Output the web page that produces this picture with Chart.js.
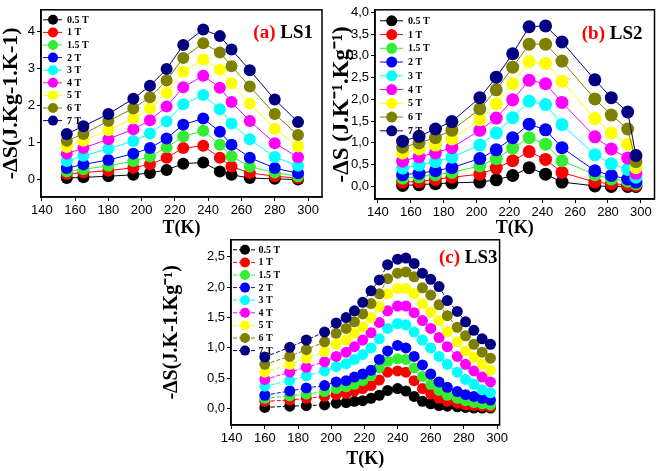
<!DOCTYPE html>
<html>
<head>
<meta charset="utf-8">
<script src="https://cdn.jsdelivr.net/npm/chart.js@4.4.0/dist/chart.umd.min.js"></script>
<style>
  body { margin: 0; background: #fff; width: 661px; height: 471px; position: relative; overflow: hidden; }
  .panel { position: absolute; }
</style>
</head>
<body>
<div class="panel" style="left:0;top:0;width:330px;height:240px"><canvas id="chartA"></canvas></div>
<div class="panel" style="left:330px;top:0;width:331px;height:240px"><canvas id="chartB"></canvas></div>
<div class="panel" style="left:160px;top:230px;width:350px;height:241px"><canvas id="chartC"></canvas></div>
<script>
// field labels and colours (same for all three panels)
const fields = ["0.5 T", "1 T", "1.5 T", "2 T", "3 T", "4 T", "5 T", "6 T", "7 T"];
const colors = ["#000000", "#ff0000", "#33ee33", "#0000ff", "#00ffff", "#ff00ff", "#ffff00", "#808000", "#000080"];

// (a) LS1
const tempLS1 = [155, 165, 180, 195, 205, 215, 225, 237, 247, 254, 265, 280, 294];
const ls1_05 = [0.04, 0.06, 0.09, 0.13, 0.18, 0.26, 0.43, 0.46, 0.22, 0.13, 0.04, 0.02, 0.00];
const ls1_1  = [0.15, 0.19, 0.24, 0.32, 0.41, 0.59, 0.85, 0.91, 0.59, 0.35, 0.18, 0.09, 0.04];
const ls1_15 = [0.22, 0.28, 0.37, 0.50, 0.62, 0.87, 1.16, 1.32, 0.94, 0.63, 0.35, 0.19, 0.09];
const ls1_2  = [0.31, 0.41, 0.53, 0.70, 0.85, 1.11, 1.48, 1.65, 1.29, 0.94, 0.59, 0.31, 0.17];
const ls1_3  = [0.50, 0.64, 0.83, 1.04, 1.24, 1.57, 2.03, 2.28, 1.90, 1.51, 1.09, 0.61, 0.37];
const ls1_4  = [0.70, 0.85, 1.09, 1.36, 1.60, 1.97, 2.49, 2.80, 2.48, 2.09, 1.58, 0.98, 0.60];
const ls1_5  = [0.88, 1.05, 1.33, 1.65, 1.92, 2.34, 2.91, 3.24, 2.97, 2.60, 2.05, 1.37, 0.89];
const ls1_6  = [1.05, 1.23, 1.58, 1.92, 2.22, 2.67, 3.28, 3.68, 3.43, 3.06, 2.51, 1.77, 1.20];
const ls1_7  = [1.23, 1.44, 1.77, 2.18, 2.53, 2.98, 3.63, 4.05, 3.87, 3.51, 2.95, 2.16, 1.55];

// (b) LS2
const tempLS2 = [155, 165, 175, 185, 202, 212, 222, 232, 242, 252, 272, 282, 292, 297];
const ls2_05 = [0.02, 0.04, 0.06, 0.08, 0.10, 0.15, 0.25, 0.43, 0.28, 0.10, 0.01, 0.00, 0.00, 0.00];
const ls2_1  = [0.10, 0.11, 0.16, 0.21, 0.28, 0.42, 0.59, 0.80, 0.62, 0.32, 0.10, 0.06, 0.04, 0.02];
const ls2_15 = [0.19, 0.22, 0.27, 0.32, 0.47, 0.64, 0.88, 1.12, 0.97, 0.59, 0.27, 0.17, 0.12, 0.06];
const ls2_2  = [0.27, 0.30, 0.36, 0.43, 0.64, 0.84, 1.12, 1.43, 1.30, 0.89, 0.36, 0.25, 0.17, 0.10];
const ls2_3  = [0.42, 0.49, 0.57, 0.67, 0.95, 1.23, 1.58, 1.96, 1.88, 1.42, 0.73, 0.52, 0.39, 0.21];
const ls2_4  = [0.58, 0.68, 0.77, 0.89, 1.29, 1.57, 1.99, 2.44, 2.36, 1.93, 1.14, 0.86, 0.65, 0.30];
const ls2_5  = [0.77, 0.86, 0.95, 1.09, 1.53, 1.90, 2.36, 2.87, 2.83, 2.42, 1.56, 1.23, 0.97, 0.43];
const ls2_6  = [0.90, 1.00, 1.12, 1.29, 1.78, 2.22, 2.74, 3.27, 3.27, 2.88, 2.01, 1.64, 1.32, 0.57];
const ls2_7  = [1.04, 1.15, 1.32, 1.49, 2.04, 2.51, 3.05, 3.67, 3.69, 3.32, 2.45, 2.04, 1.71, 0.71];

// (c) LS3
const tempLS3 = [160, 175, 185, 196, 203, 209, 214, 219, 224, 229, 234, 240, 245, 250, 255, 260, 265, 270, 276, 281, 286, 291, 296];
const ls3_05 = [0.02, 0.04, 0.05, 0.06, 0.09, 0.10, 0.12, 0.13, 0.17, 0.22, 0.30, 0.33, 0.29, 0.20, 0.12, 0.08, 0.05, 0.04, 0.03, 0.02, 0.01, 0.01, 0.01];
const ls3_1  = [0.12, 0.14, 0.17, 0.20, 0.23, 0.25, 0.29, 0.33, 0.38, 0.47, 0.60, 0.62, 0.60, 0.46, 0.33, 0.24, 0.17, 0.12, 0.09, 0.06, 0.05, 0.04, 0.03];
const ls3_15 = [0.17, 0.21, 0.24, 0.28, 0.33, 0.36, 0.40, 0.46, 0.54, 0.67, 0.78, 0.82, 0.81, 0.67, 0.53, 0.40, 0.30, 0.22, 0.17, 0.13, 0.10, 0.08, 0.06];
const ls3_2  = [0.22, 0.29, 0.34, 0.38, 0.44, 0.46, 0.52, 0.57, 0.63, 0.81, 0.95, 1.04, 1.00, 0.86, 0.72, 0.57, 0.44, 0.35, 0.28, 0.23, 0.20, 0.17, 0.14];
const ls3_3  = [0.37, 0.46, 0.54, 0.62, 0.69, 0.74, 0.81, 0.89, 1.00, 1.15, 1.32, 1.40, 1.38, 1.26, 1.13, 1.00, 0.86, 0.73, 0.60, 0.48, 0.40, 0.31, 0.26];
const ls3_4  = [0.48, 0.60, 0.68, 0.77, 0.86, 0.93, 1.02, 1.13, 1.25, 1.42, 1.61, 1.69, 1.69, 1.58, 1.45, 1.32, 1.17, 1.02, 0.86, 0.73, 0.62, 0.52, 0.44];
const ls3_5  = [0.60, 0.73, 0.83, 0.94, 1.06, 1.13, 1.24, 1.35, 1.50, 1.68, 1.89, 1.98, 1.98, 1.89, 1.73, 1.59, 1.45, 1.27, 1.10, 0.95, 0.84, 0.73, 0.63];
const ls3_6  = [0.73, 0.86, 0.97, 1.10, 1.24, 1.32, 1.43, 1.56, 1.73, 1.89, 2.14, 2.23, 2.25, 2.17, 1.99, 1.87, 1.71, 1.53, 1.34, 1.20, 1.06, 0.93, 0.83];
const ls3_7  = [0.85, 1.01, 1.13, 1.26, 1.41, 1.50, 1.61, 1.75, 1.94, 2.12, 2.37, 2.46, 2.48, 2.39, 2.23, 2.13, 2.01, 1.78, 1.60, 1.43, 1.29, 1.15, 1.06];

const xTicks = [140, 160, 180, 200, 220, 240, 260, 280, 300];

// frame, legend and panel tag drawn inside the plot box
const framePlugin = {
    id: 'frame',
    afterDatasetsDraw(chart, args, opts) {
        const ctx = chart.ctx;
        const a = chart.chartArea;
        ctx.save();
        ctx.strokeStyle = '#000';
        ctx.lineWidth = 1.5;
        ctx.strokeRect(a.left, a.top, a.right - a.left, a.bottom - a.top);

        const L = opts.legend;
        chart.data.datasets.forEach((ds, i) => {
            const y = a.top + L.y0 + i * L.dy;
            ctx.strokeStyle = ds.borderColor;
            ctx.lineWidth = 1;
            ctx.setLineDash(ds.borderDash || []);
            ctx.beginPath();
            ctx.moveTo(a.left + L.x0, y);
            ctx.lineTo(a.left + L.x1, y);
            ctx.stroke();
            ctx.setLineDash([]);
            ctx.fillStyle = ds.backgroundColor;
            ctx.beginPath();
            ctx.arc(a.left + L.mx, y, L.r, 0, Math.PI * 2);
            ctx.fill();
            ctx.fillStyle = '#000';
            ctx.font = 'bold 10px "Liberation Serif"';
            ctx.textAlign = 'left';
            ctx.textBaseline = 'middle';
            ctx.fillText(ds.label, a.left + L.tx, y + 0.5);
        });

        const T = opts.tag;
        ctx.font = 'bold 19px "Liberation Serif"';
        ctx.textAlign = 'right';
        ctx.textBaseline = 'middle';
        ctx.fillStyle = '#000';
        const rx = a.right - T.dx;
        ctx.fillText(' ' + T.name, rx, a.top + T.dy);
        const w = ctx.measureText(' ' + T.name).width;
        ctx.fillStyle = '#ff0000';
        ctx.fillText(T.letter, rx - w, a.top + T.dy);
        ctx.restore();
    }
};

function makePanel(canvasId, temps, series, cfg) {
    const fmt = v => cfg.comma ? v.toFixed(1).replace('.', ',') : String(v);
    new Chart(document.getElementById(canvasId), {
        type: 'line',
        data: {
            datasets: series.map((vals, i) => ({
                label: fields[i],
                data: temps.map((t, j) => ({ x: t, y: vals[j] })),
                borderColor: colors[i],
                backgroundColor: colors[i],
                borderWidth: 1,
                borderDash: cfg.dash,
                pointRadius: cfg.r,
                pointBorderWidth: 0,
                order: series.length - i
            }))
        },
        plugins: [framePlugin],
        options: {
            responsive: true,
            maintainAspectRatio: false,
            animation: false,
            layout: { padding: { top: cfg.top, right: cfg.right, left: 0, bottom: 0 } },
            scales: {
                x: {
                    type: 'linear',
                    min: cfg.xMin,
                    max: cfg.xMax,
                    afterBuildTicks: s => { s.ticks = xTicks.map(v => ({ value: v })); },
                    afterFit: s => { s.height = cfg.xh; },
                    ticks: { color: '#000', font: { family: 'Liberation Sans', size: 13 }, padding: 2, maxRotation: 0 },
                    grid: { drawOnChartArea: false, color: '#000', tickLength: 4 },
                    border: { color: '#000', width: 1.5 },
                    title: {
                        display: true, text: 'T(K)', color: '#000',
                        font: { family: 'Liberation Serif', size: 18, weight: 'bold' },
                        padding: { top: 0, bottom: cfg.xtPad }
                    }
                },
                y: {
                    min: cfg.yMin,
                    max: cfg.yMax,
                    afterBuildTicks: s => { s.ticks = cfg.yTicks.map(v => ({ value: v })); },
                    afterFit: s => { s.width = cfg.yw; },
                    ticks: { color: '#000', font: { family: 'Liberation Sans', size: 13 }, padding: 2, callback: v => fmt(v) },
                    grid: { drawOnChartArea: false, color: '#000', tickLength: 4 },
                    border: { color: '#000', width: 1.5 },
                    title: {
                        display: true, text: cfg.yTitle, color: '#000',
                        font: { family: 'Liberation Serif', size: cfg.ytSize, weight: 'bold' },
                        padding: { top: cfg.ytPad, bottom: 0 }
                    }
                }
            },
            plugins: {
                legend: { display: false },
                tooltip: { enabled: false },
                frame: { legend: cfg.legend, tag: cfg.tag }
            }
        }
    });
}

makePanel('chartA', tempLS1, [ls1_05, ls1_1, ls1_15, ls1_2, ls1_3, ls1_4, ls1_5, ls1_6, ls1_7], {
    xMin: 139.5, xMax: 308.4, yMin: -0.47, yMax: 4.58, yTicks: [0, 1, 2, 3, 4], comma: false,
    top: 5, right: 8, xh: 43, yw: 41, xtPad: 1, ytPad: -2, ytSize: 22, r: 6, dash: [],
    yTitle: '-ΔS(J.Kg-1.K-1)',
    legend: { x0: 2, x1: 21, mx: 12, r: 5, tx: 26, y0: 10, dy: 12.6 },
    tag: { letter: '(a)', name: 'LS1', dx: 9, dy: 23 }
});

makePanel('chartB', tempLS2, [ls2_05, ls2_1, ls2_15, ls2_2, ls2_3, ls2_4, ls2_5, ls2_6, ls2_7], {
    xMin: 138.2, xMax: 308.3, yMin: -0.29, yMax: 4.06, yTicks: [0, 0.5, 1, 1.5, 2, 2.5, 3, 3.5, 4], comma: true,
    top: 4, right: 6, xh: 41, yw: 45, xtPad: 1, ytPad: -2, ytSize: 23, r: 6.5, dash: [],
    yTitle: '-ΔS (J.K⁻¹.Kg⁻¹)',
    legend: { x0: 5, x1: 28, mx: 16.7, r: 5.5, tx: 33, y0: 11, dy: 13.75 },
    tag: { letter: '(b)', name: 'LS2', dx: 12, dy: 24 }
});

makePanel('chartC', tempLS3, [ls3_05, ls3_1, ls3_15, ls3_2, ls3_3, ls3_4, ls3_5, ls3_6, ls3_7], {
    xMin: 139.6, xMax: 301.5, yMin: -0.27, yMax: 2.78, yTicks: [0, 0.5, 1, 1.5, 2, 2.5], comma: true,
    top: 5, right: 7, xh: 46, yw: 71, xtPad: 1, ytPad: 0, ytSize: 20, r: 5.5, dash: [4, 2],
    yTitle: '-ΔS(J.K-1.Kg⁻¹)',
    legend: { x0: 2, x1: 26, mx: 14, r: 5, tx: 27.5, y0: 10, dy: 12.6 },
    tag: { letter: '(c)', name: 'LS3', dx: 2, dy: 18 }
});
</script>
</body>
</html>
